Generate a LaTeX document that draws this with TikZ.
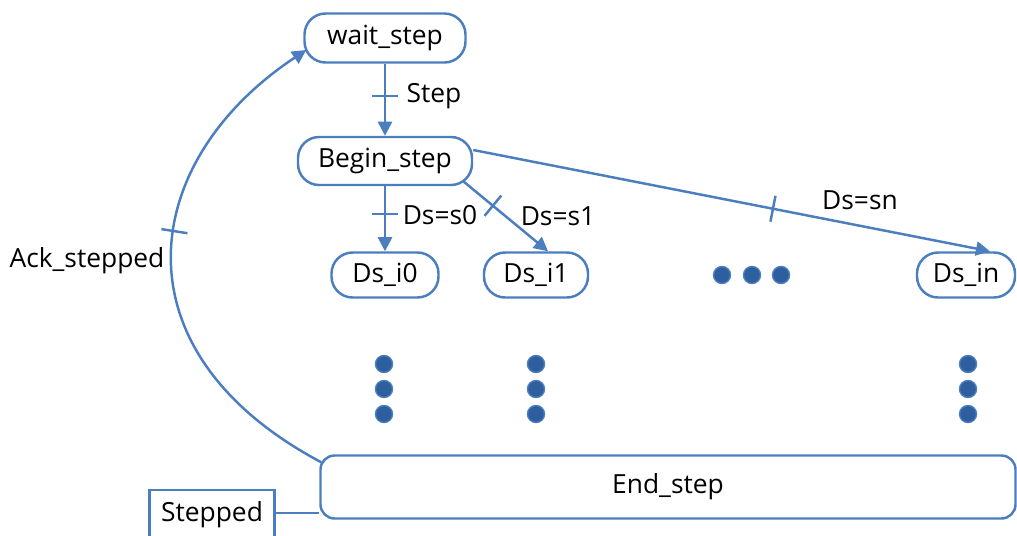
\documentclass[tikz,border=0pt]{standalone}
\usepackage{fontspec}
\setmainfont{Open Sans}
\usetikzlibrary{arrows.meta,decorations.markings}
\definecolor{linkblue}{RGB}{74,126,190}
\definecolor{dotblue}{RGB}{46,94,158}

\tikzset{
  state/.style={draw=linkblue,line width=1.4pt,rounded corners=12pt,fill=white,
    inner sep=0pt,font=\fontsize{15}{17}\selectfont},
  link/.style={draw=linkblue,line width=1.4pt,-{Triangle[length=8pt,width=8pt]}},
  crossed/.style={postaction={decorate},decoration={markings,
    mark=at position #1 with {\draw[linkblue,line width=1.4pt,-] (0,-7.5pt) -- (0,7.5pt);}}},
  lbl/.style={font=\fontsize{15}{17}\selectfont},
  dot/.style={circle,fill=dotblue,draw=linkblue,line width=0.8pt,minimum size=17*0.02cm,inner sep=0pt}
}

\begin{document}
\begin{tikzpicture}[x=0.02cm,y=-0.02cm]
\useasboundingbox (0,0) rectangle (1017,535);

\node[state,minimum width=161*0.02cm,minimum height=49*0.02cm] (wait) at (385,38) {wait\_step};
\node[state,minimum width=174*0.02cm,minimum height=48*0.02cm] (begin) at (385,161) {Begin\_step};
\node[state,minimum width=107*0.02cm,minimum height=45*0.02cm] (dsa) at (385,275) {Ds\_i0};
\node[state,minimum width=104*0.02cm,minimum height=45*0.02cm] (dsb) at (536,275) {Ds\_i1};
\node[state,minimum width=98*0.02cm,minimum height=45*0.02cm] (dsn) at (966,275) {Ds\_in};
\node[state,rounded corners=8pt,minimum width=695*0.02cm,minimum height=63*0.02cm] (endstep) at (668,487) {End\_step};
\node[draw=linkblue,line width=1.4pt,lbl,minimum width=125*0.02cm,minimum height=50*0.02cm,inner sep=0pt] (stepped) at (212,515) {Stepped};

% transitions
\draw[link,crossed=0.45] (wait.south) -- (begin.north);
\draw[link,crossed=0.43] (begin.south) -- (dsa.north);
\draw[link,crossed=0.35] ([shift={(-10,-5)}]begin.south east) -- ([shift={(12,0)}]dsb.north);
\draw[link,crossed=0.58] ([shift={(0,-11)}]begin.east) -- ([shift={(24,0)}]dsn.north);
\draw[link,crossed=0.56] ([shift={(2,8)}]endstep.north west) .. controls (110,350) and (140,160) .. ([shift={(3,12)}]wait.west);
\draw[draw=linkblue,line width=1.4pt] ([shift={(0,-2)}]stepped.east) -- ([shift={(0,-2)}]stepped.east -| endstep.west);

\node[lbl] (lstep) at (434,96) {Step};
\node[lbl] (ls0) at (440,215) {Ds=s0};
\node[lbl] (ls1) at (558,216) {Ds=s1};
\node[lbl] (lsn) at (860,200) {Ds=sn};
\node[lbl] (lack) at (87,261) {Ack\_stepped};

% dots
\foreach \x in {722,752,781}
  \node[dot] at (\x,275) {};
\foreach \x in {384,536,968}
  \foreach \y in {364,389,414}
    \node[dot] at (\x,\y) {};
\end{tikzpicture}
\end{document}
